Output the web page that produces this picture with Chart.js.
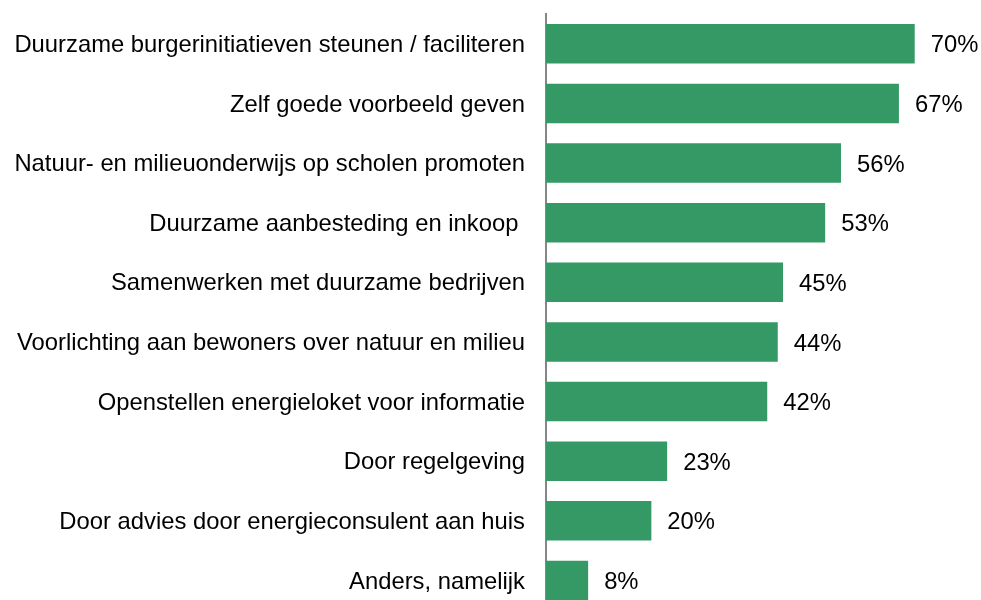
<!DOCTYPE html>
<html>
<head>
<meta charset="utf-8">
<script src="https://cdn.jsdelivr.net/npm/chart.js@4/dist/chart.umd.min.js"></script>
<style>
  html, body { margin: 0; padding: 0; background: #fff; overflow: hidden; }
  canvas { display: block; }
</style>
</head>
<body>
<canvas id="chart" width="981" height="611"></canvas>
<script>
const categories = [
  "Duurzame burgerinitiatieven steunen / faciliteren",
  "Zelf goede voorbeeld geven",
  "Natuur- en milieuonderwijs op scholen promoten",
  "Duurzame aanbesteding en inkoop ",
  "Samenwerken met duurzame bedrijven",
  "Voorlichting aan bewoners over natuur en milieu",
  "Openstellen energieloket voor informatie",
  "Door regelgeving",
  "Door advies door energieconsulent aan huis",
  "Anders, namelijk"
];
const values = [70, 67, 56, 53, 45, 44, 42, 23, 20, 8];
const valueLabels = ["70%", "67%", "56%", "53%", "45%", "44%", "42%", "23%", "20%", "8%"];

const barColor = "#359966";
const fontFamily = "'Liberation Sans', Arial, sans-serif";
const fontSize = 23.8;

// value labels right of each bar
const valueLabelPlugin = {
  id: "valueLabels",
  afterDatasetsDraw(chart) {
    const ctx = chart.ctx;
    const meta = chart.getDatasetMeta(0);
    ctx.save();
    ctx.font = fontSize + "px " + fontFamily;
    ctx.fillStyle = "#000";
    ctx.textAlign = "left";
    ctx.textBaseline = "middle";
    meta.data.forEach((bar, i) => {
      ctx.fillText(valueLabels[i], bar.x + 16, bar.y + 2);
    });
    ctx.restore();
  }
};

new Chart(document.getElementById("chart"), {
  type: "bar",
  data: {
    labels: categories,
    datasets: [{
      data: values,
      backgroundColor: barColor,
      borderWidth: 0,
      categoryPercentage: 1,
      barPercentage: 0.663
    }]
  },
  options: {
    indexAxis: "y",
    responsive: false,
    animation: false,
    layout: { padding: { top: 14, right: 13.6, bottom: 0.7, left: 10 } },
    plugins: {
      legend: { display: false },
      tooltip: { enabled: false }
    },
    scales: {
      x: {
        display: false,
        min: 0,
        max: 80
      },
      y: {
        grid: { display: false, drawTicks: false },
        border: { display: true, color: "#868686", width: 2 },
        ticks: {
          color: "#000",
          padding: 21,
          labelOffset: 1.5,
          font: { family: fontFamily, size: fontSize }
        },
        afterFit(scale) {
          scale.paddingTop = 0;
          scale.paddingBottom = 0;
          scale.width = 536;
        }
      }
    }
  },
  plugins: [valueLabelPlugin]
});
</script>
</body>
</html>
